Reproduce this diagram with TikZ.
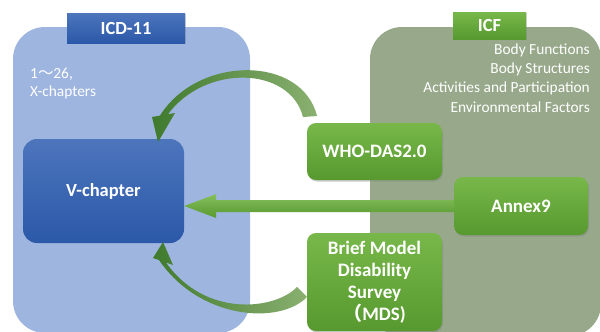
\documentclass[tikz,border=0pt]{standalone}
\usepackage{fontspec}
\setmainfont{Carlito}
\newfontfamily\cjk{Noto Sans CJK JP}
\usetikzlibrary{shadows,calc}
\definecolor{icdbg}{HTML}{9EB5DF}
\definecolor{icfbg}{HTML}{98A98B}
\definecolor{bluetop}{HTML}{4C75BC}
\definecolor{bluebot}{HTML}{2B58A8}
\definecolor{greentop}{HTML}{78B84A}
\definecolor{greenbot}{HTML}{57992F}
\definecolor{arrdark}{HTML}{3F7A2D}
\definecolor{arrlight}{HTML}{8AB070}
\tikzset{
  bigbox/.style={rounded corners=32pt, inner sep=0pt},
  bluebox/.style={rounded corners=14pt, inner sep=0pt, top color=bluetop, bottom color=bluebot,
    text=white, font=\bfseries\fontsize{18.5}{22}\selectfont},
  tagblue/.style={inner sep=0pt, top color=bluetop, bottom color=bluebot, text=white,
    font=\bfseries\fontsize{18.5}{22}\selectfont,
    drop shadow={shadow xshift=0.8pt, shadow yshift=-1.2pt, opacity=0.35}},
  greenbox/.style={rounded corners=9pt, inner sep=0pt, top color=greentop, bottom color=greenbot,
    text=white, align=center, font=\bfseries\fontsize{19}{22}\selectfont,
    drop shadow={shadow xshift=1pt, shadow yshift=-1.5pt, opacity=0.4}},
  taggreen/.style={inner sep=0pt, top color=greentop, bottom color=greenbot, text=white,
    font=\bfseries\fontsize{18.5}{22}\selectfont,
    drop shadow={shadow xshift=0.8pt, shadow yshift=-1.2pt, opacity=0.35}},
  listtxt/.style={inner sep=0pt, text=white, font=\fontsize{15.4}{18}\selectfont},
}
\begin{document}
\begin{tikzpicture}[x=1pt,y=-1pt]
\useasboundingbox (0,0) rectangle (600,332);
% big panels
\node[bigbox, fill=icdbg, minimum width=237pt, minimum height=306pt] (icd) at (131.5,180) {};
\node[bigbox, fill=icfbg, minimum width=231pt, minimum height=309pt] (icf) at (485.5,181.5) {};
% tags
\node[tagblue, minimum width=118pt, minimum height=30pt] (icdtag) at (126,28) {ICD-11};
\node[taggreen, minimum width=73pt, minimum height=27pt] (icftag) at (489.5,25.5) {ICF};
% ICD text
\node[listtxt, anchor=west] (ch1) at (30,74) {1{\cjk 〜}26,};
\node[listtxt, anchor=west] (ch2) at (30,92) {X-chapters};
% ICF list
\node[listtxt, anchor=east] (bf) at (590,50) {Body Functions};
\node[listtxt, anchor=east] (bs) at (590,69) {Body Structures};
\node[listtxt, anchor=east] (ap) at (590,88) {Activities and Participation};
\node[listtxt, anchor=east] (ef) at (590,107) {Environmental Factors};
% V-chapter
\node[bluebox, minimum width=161pt, minimum height=104pt] (vch) at (103.5,191) {V-chapter};
% green boxes
\node[greenbox, minimum width=135pt, minimum height=57pt] (who) at (374.5,151.5) {WHO-DAS2.0};
\node[greenbox, minimum width=134pt, minimum height=58pt] (annex) at (521,206) {Annex9};
\node[greenbox, minimum width=135pt, minimum height=98pt] (mds) at (374.5,282)
  {Brief Model\\Disability\\Survey\\{\cjk （}MDS)};
% horizontal arrow Annex9 -> V-chapter
\path[top color=greentop!90!white, bottom color=greenbot]
  let \p1=(annex.west), \p2=(vch.east) in
  (\x1,\y1+6pt) -- (\x2+32pt,\y1+6pt) -- (\x2+32pt,\y1+12pt) -- (\x2,\y1)
  -- (\x2+32pt,\y1-12pt) -- (\x2+32pt,\y1-6pt) -- (\x1,\y1-6pt) -- cycle;
% curved arrow WHO-DAS -> V-chapter (top)
\coordinate (toptip) at (158,142);
\coordinate (bottip) at (163,242);
\path[left color=arrdark, right color=arrlight]
  (317,116) .. controls (302,55) and (198,55) .. (160,115.6)
  -- (152,117) -- (toptip) -- (175,113) -- (168,114.2)
  .. controls (205,64) and (290,66) .. (303,117) -- cycle;
% curved arrow MDS -> V-chapter (bottom)
\path[left color=arrdark, right color=arrlight]
  (307,297) .. controls (280,325) and (200,320) .. (159,260)
  -- (153,258) -- (bottip) -- (173,265) -- (166,262.5)
  .. controls (205,318) and (275,310) .. (297,287) -- cycle;
\end{tikzpicture}
\end{document}
